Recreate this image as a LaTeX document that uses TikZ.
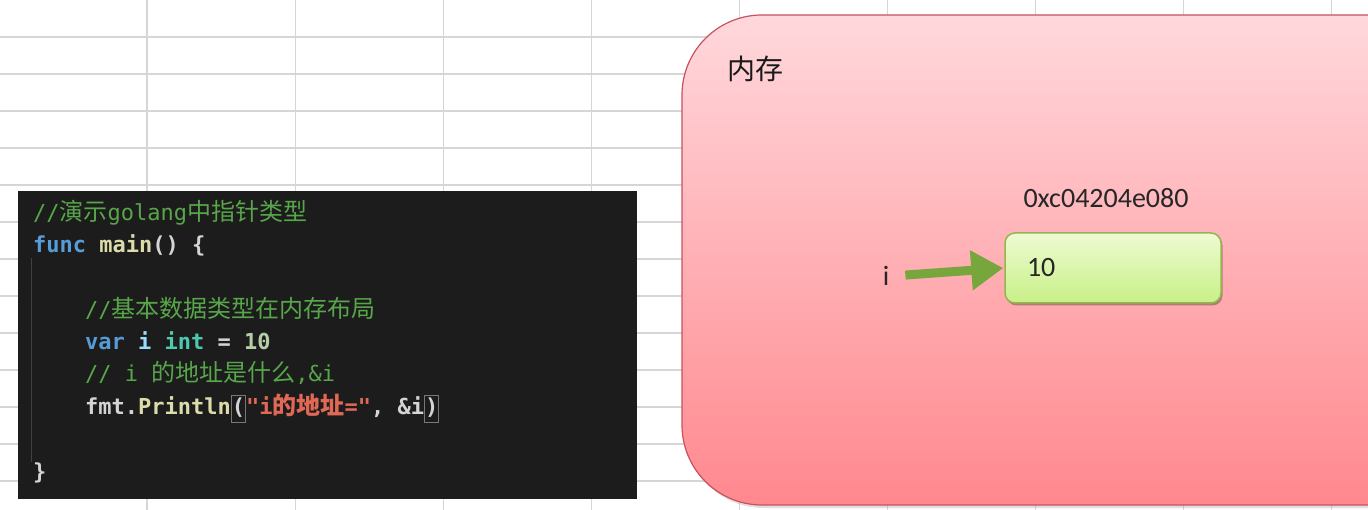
\documentclass[tikz,border=0pt]{standalone}
\usepackage{fontspec}
\setmainfont{Carlito}
\newfontfamily\cjkf{Noto Sans CJK SC}
\newfontfamily\codef{DejaVu Sans Mono}
\usetikzlibrary{arrows.meta,shadows}
\definecolor{gridc}{RGB}{214,214,214}
\definecolor{codebg}{RGB}{28,28,28}
\definecolor{cmt}{RGB}{87,166,74}
\definecolor{kw}{RGB}{86,156,214}
\definecolor{fnc}{RGB}{220,220,170}
\definecolor{varc}{RGB}{156,220,254}
\definecolor{typ}{RGB}{78,201,176}
\definecolor{num}{RGB}{181,206,168}
\definecolor{strc}{RGB}{226,104,86}
\definecolor{plain}{RGB}{212,212,212}
\definecolor{hlgray}{RGB}{120,120,120}
\definecolor{guide}{RGB}{64,64,64}
\definecolor{memtop}{RGB}{255,216,220}
\definecolor{membot}{RGB}{255,136,142}
\definecolor{memborder}{RGB}{200,80,95}
\definecolor{valtop}{RGB}{238,251,210}
\definecolor{valbot}{RGB}{200,240,135}
\definecolor{valborder}{RGB}{150,180,80}
\definecolor{arrowg}{RGB}{118,166,60}
\newcommand\cj[1]{{\cjkf\fontsize{24}{26}\selectfont #1}}
\newcommand\hlb[1]{{\setlength\fboxsep{0pt}\setlength\fboxrule{1pt}\fcolorbox{hlgray}{codebg}{\strut#1}}}
\tikzset{
  gridline/.style={draw=gridc, line width=1.2pt},
  codebox/.style={fill=codebg, draw=none},
  codetext/.style={anchor=base west, inner sep=0pt, font=\codef\fontsize{22}{26}\selectfont, text=plain},
  codebold/.style={codetext, font=\codef\bfseries\fontsize{22}{26}\selectfont},
  membox/.style={draw=memborder, line width=1.2pt, rounded corners=80pt, top color=memtop, bottom color=membot,
     drop shadow={opacity=0.25, shadow xshift=2pt, shadow yshift=-3pt}},
  valbox/.style={draw=valborder, line width=1.5pt, rounded corners=10pt, top color=valtop, bottom color=valbot,
     minimum width=216pt, minimum height=70pt, inner xsep=22pt, text width=172pt, align=left,
     font=\fontsize{28}{30}\selectfont, text=black!85,
     drop shadow={opacity=0.45, shadow xshift=1.5pt, shadow yshift=-2.5pt, fill=black!60!olive}},
  lbl/.style={inner sep=3pt, font=\fontsize{28}{30}\selectfont, text=black!85},
  ptr/.style={draw=arrowg, line width=9pt, -{Triangle[length=32pt,width=38pt]}, shorten <=13pt, shorten >=1pt},
}
\begin{document}
\begin{tikzpicture}[x=1pt,y=-1pt]
\useasboundingbox (0,0) rectangle (1368,510);
\fill[white] (0,0) rectangle (1368,510);
% spreadsheet grid
\foreach \k in {0,...,8} { \draw[gridline] ({147+148.1*\k},0) -- ({147+148.1*\k},510); }
\foreach \k in {1,...,13} { \draw[gridline] (0,{37*\k}) -- (1368,{37*\k}); }
% code box
\path[codebox] (18,191) rectangle (637,499);
\draw[guide, line width=1pt] (31,258) -- (31,462);
\node[codetext] (c1) at (33,221) {\color{cmt}//\cj{演示}golang\cj{中指针类型}};
\node[codebold] (c2) at (33,253) {{\color{kw}func} {\color{fnc}main}() \{};
\node[codetext] (c3) at (85,318) {\color{cmt}//\cj{基本数据类型在内存布局}};
\node[codebold] (c4) at (85,350) {{\color{kw}var} {\color{varc}i} {\color{typ}int} = {\color{num}10}};
\node[codetext] (c5) at (85,382) {\color{cmt}// i \cj{的地址是什么},\&i};
\node[codebold] (c6) at (85,414) {fmt.{\color{fnc}Println}\hlb{(}{\color{strc}"i\cj{的地址}="}, \&i\hlb{)}};
\node[codebold] (c7) at (33,479) {\}};
% memory box
\begin{scope}
\clip (0,0) rectangle (1368,510);
\path[membox] (682,15) rectangle (1460,505);
\end{scope}
\node[anchor=west, inner sep=0pt, font=\cjkf\fontsize{28}{30}\selectfont, text=black!90] (mem) at (727,69) {内存};
\node[lbl] (addr) at (1106,198) {0xc04204e080};
\node[valbox] (val) at (1113,268) {10};
\node[lbl] (i) at (886,276) {i};
\draw[ptr] (i.east) -- (val.west);
\end{tikzpicture}
\end{document}
